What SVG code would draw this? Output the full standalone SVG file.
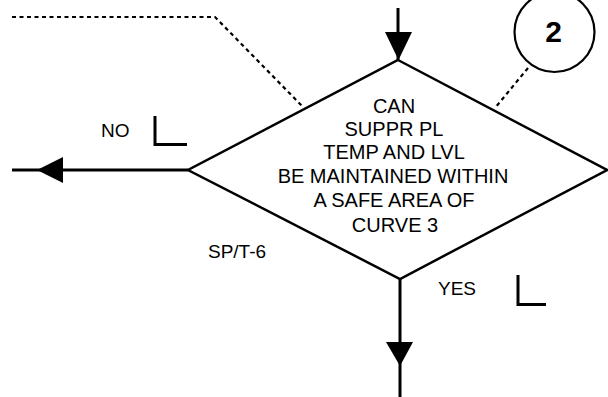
<svg xmlns="http://www.w3.org/2000/svg" width="608" height="397" viewBox="0 0 608 397">
  <style>
    .t { font-family: "Liberation Sans", Arial, sans-serif; font-size: 20px; fill: #000; text-anchor: middle; }
    .lbl { font-family: "Liberation Sans", Arial, sans-serif; font-size: 19px; fill: #000; }
    .edge { fill: none; stroke: #000; stroke-width: 3; }
    .shape { fill: #fff; stroke: #000; stroke-width: 2.5; stroke-linejoin: miter; }
    .dot { fill: none; stroke: #000; stroke-width: 2.2; stroke-dasharray: 4 3.5; }
    .mark { fill: none; stroke: #000; stroke-width: 3; }
    .head { fill: #000; stroke: none; }
  </style>
  <rect width="608" height="397" fill="#fff"/>

  <g id="connectors">
    <line class="edge" x1="398" y1="8" x2="398" y2="60"/>
    <polygon class="head" points="385,32 412,32 398.5,60"/>
    <line class="edge" x1="12" y1="170" x2="188" y2="170"/>
    <polygon class="head" points="37,170 63,157 63,183"/>
    <line class="edge" x1="400" y1="279" x2="400" y2="397"/>
    <polygon class="head" points="386,342 413,342 400,366"/>
    <polyline class="dot" points="12,17 215,17 302,106"/>
    <line class="dot" x1="528" y1="68" x2="495" y2="108"/>
  </g>

  <g id="decision">
    <polygon class="shape" points="398,60 607,170 400,279 188,170"/>
    <text class="t" x="394" y="113">CAN</text>
    <text class="t" x="394" y="136">SUPPR PL</text>
    <text class="t" x="394" y="159">TEMP AND LVL</text>
    <text class="t" x="393" y="183">BE MAINTAINED WITHIN</text>
    <text class="t" x="394" y="207">A SAFE AREA OF</text>
    <text class="t" x="395" y="232">CURVE 3</text>
  </g>

  <g id="ref-2">
    <circle cx="554.5" cy="32" r="40" fill="none" stroke="#000" stroke-width="2.2"/>
    <text x="553.5" y="42" font-family="Liberation Sans, Arial, sans-serif" font-size="30" font-weight="bold" text-anchor="middle">2</text>
  </g>

  <g id="label-no">
    <text class="lbl" x="101" y="137" font-size="20">NO</text>
    <polyline class="mark" points="155,116 155,144.5 187,144.5"/>
  </g>

  <g id="label-spt6">
    <text class="lbl" x="208" y="258" font-size="20">SP/T-6</text>
  </g>

  <g id="label-yes">
    <text class="lbl" x="438" y="295">YES</text>
    <polyline class="mark" points="518,275 518,304.5 546,304.5"/>
  </g>
</svg>
